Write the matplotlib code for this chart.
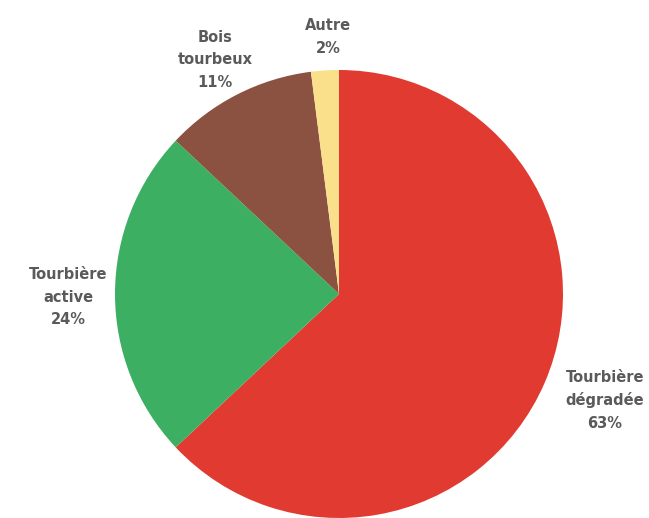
import matplotlib.pyplot as plt

# parts of the peatland area (%), clockwise from the top
labels = ["Tourbière\ndégradée", "Tourbière\nactive", "Bois\ntourbeux", "Autre"]
shares = [63, 24, 11, 2]
colors = ["#E03A31", "#3CAF63", "#8B5241", "#FBE08C"]

# label centres in pixel coords (x, y from top)
label_pos = [(605, 400), (68, 297), (215, 60), (328, 37)]

W, H = 649, 518
fig = plt.figure(figsize=(W / 100, H / 100), dpi=100)
ax = fig.add_axes([0, 0, 1, 1])

ax.pie(shares, colors=colors, startangle=90, counterclock=False,
       center=(339, H - 294), radius=224,
       wedgeprops={"linewidth": 0})

for lab, val, (x, y) in zip(labels, shares, label_pos):
    ax.text(x, H - y, f"{lab}\n{val}%", ha="center", va="center",
            fontsize=10.5, fontweight="bold", color="#5a5a5a",
            family="DejaVu Sans", linespacing=1.6)

ax.set_xlim(0, W)
ax.set_ylim(0, H)
ax.set_aspect("equal")
ax.axis("off")

plt.savefig("out.png", dpi=100)
plt.close()
